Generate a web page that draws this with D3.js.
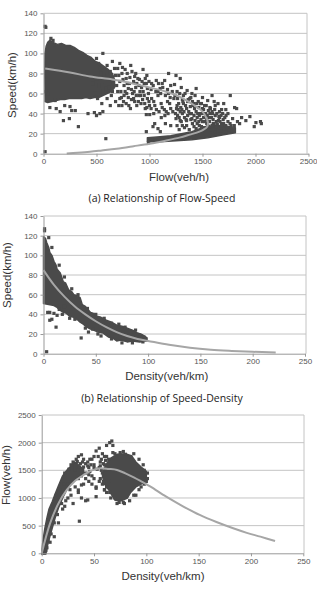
<!DOCTYPE html>
<html>
<head>
<meta charset="utf-8">
<script src="https://cdn.jsdelivr.net/npm/d3@7"></script>
<style>
  body { margin: 0; background: #fff; }
  svg { display: block; }
</style>
</head>
<body>
<svg id="chart" width="317" height="592"></svg>
<script>
// ---- (a) flow-speed ----
const flowTicks = [0, 500, 1000, 1500, 2000, 2500]
const speedTicks = [0, 20, 40, 60, 80, 100, 120, 140]

// dense free-flow cloud outline (flow, speed)
const fsCore = [[15,52],[12,80],[14,100],[25,107],[40,111],[60,113],[90,111],[130,109],[170,110],[210,108],[250,108],
  [290,106],[330,103],[370,101],[410,98],[450,96],[490,92],[530,90],[570,87],[610,84],[650,80],[670,74],
  [670,66],[640,62],[600,60],[560,58],[520,56],[480,56],[440,55],[400,56],[360,55],[320,55],[280,55],[240,55],
  [200,54],[160,54],[120,53],[80,52],[40,51]]
// dense congested band outline
const fsBand = [[980,12],[1100,12],[1250,13],[1400,14],[1550,16],[1700,19],[1810,21],[1810,26],[1700,28],[1600,28],
  [1500,26],[1400,22],[1300,20],[1200,18],[1100,17],[980,16]]
const fsPoints = [[15,127],[22,126],[15,2],[110,53],[157,42],[188,33],[244,35],[266,43],[300,43],[329,27],[420,40],
  [480,41],[500,38],[532,40],[560,42],[588,15],[200,48],[250,47],[120,45],[60,46],[40,60],[20,62],[70,115],[90,113],[100,108],
  [500,95],[520,90],[560,100],[600,88],[630,82],[650,92],[680,78],[700,85],[720,72],[740,80],[760,68],[780,75],[800,65],
  [823,88],[850,72],[870,80],[900,68],[939,84],[960,75],[980,65],
  [500,75],[520,68],[540,80],[560,62],[580,72],[600,55],[620,66],[640,58],[660,70],[680,52],[700,62],[720,55],[740,48],
  [760,58],[780,50],[800,56],[820,45],[840,60],[860,52],[880,48],[900,58],[920,50],[940,62],[960,45],[980,55],[1000,48],
  [470,70],[490,60],[510,55],[530,85],[550,50],[570,78],[590,65],[610,75],[630,48],[650,62],[670,85],[690,68],[710,78],
  [730,62],[750,74],[770,62],[790,80],[810,70],[830,64],[850,55],[870,66],[890,75],[910,62],[930,72],[950,58],[970,70],[990,60],
  [1020,70],[1064,73],[1100,65],[1143,73],[1180,60],[1200,68],[1236,69],[1260,62],[1300,66],[1320,58],[1355,63],[1380,55],
  [1400,60],[1440,65],[1460,52],[1500,56],[1549,53],[1590,58],[1620,48],[1646,50],[1680,44],[1700,50],[1762,58],[1803,46],[1822,45],
  [1020,55],[1050,48],[1080,58],[1110,50],[1140,44],[1170,52],[1200,45],[1230,55],[1260,48],[1290,42],[1320,50],[1350,45],
  [1380,40],[1410,48],[1440,42],[1470,38],[1500,45],[1530,40],[1560,36],[1590,42],[1620,38],[1650,33],[1680,30],[1710,36],
  [1740,32],[1770,28],
  [970,39],[1002,39],[1049,30],[1033,27],[1111,36],[1158,42],[1102,22],[970,22],[1080,25],[1150,30],[1200,28],[1250,35],
  [1300,32],[1350,28],[1400,35],[1450,30],[1500,32],[1550,28],[1600,30],[1650,26],[1700,25],[1750,24],
  [1722,38],[1784,35],[1869,36],[1909,33],[1947,37],[1988,27],[2004,31],[2047,32],[2055,30],
  [1290,75],[1250,78],[1180,80],[1120,70],[1080,62],[1040,52],[1050,14],[1000,13],[990,11],
  [720,90],[745,86],[770,84],[790,70],[815,76],[835,82],[860,77],[880,70],[905,74],[925,66],[950,70],[975,78],[995,72],
  [1015,64],[1035,68],[1060,62],[1085,70],[1105,60],[1125,66],[1150,58],[1170,64],[1195,56],[1215,62],[1240,58],[1265,55],
  [1285,60],[1310,54],[1335,60],[1360,52],[1390,56],[1415,50],[1430,58],[1480,50],[1520,48],[1570,46],[1610,52],[1660,42],
  [1720,44],[1740,40],
  [710,48],[735,56],[755,52],[785,60],[805,48],[830,54],[855,62],[875,58],[895,52],[915,58],[935,54],[955,50],[975,46],
  [995,52],[1015,45],[1040,40],[1065,44],[1090,42],[1120,46],[1145,38],[1175,40],[1190,50],[1220,42],[1245,40],[1270,44],
  [1280,36],[1310,40],[1330,36],[1360,38],[1390,34],[1420,38],[1450,36],[1480,40],[1510,36],[1540,34],[1570,40],[1600,34],
  [1630,32],[1660,36],[1690,40],[1720,28],[1760,30],[1800,28],[1830,32],[1850,30],
  [1260,28],[1330,26],[1420,27],[1470,28],[1540,30],[1580,24],[1620,22],[1670,23],[1720,22],[1780,23],
  [1255,45],[1275,50],[1295,46],[1315,52],[1340,48],[1365,54],[1385,47],[1405,52],[1425,45],[1445,50],[1465,46],[1490,50],
  [1510,44],[1535,48],[1555,43],[1575,45],[1595,40],[1615,44],[1635,40],[1655,37],[1675,38],[1695,34],
  [1265,38],[1290,33],[1305,44],[1325,42],[1345,34],[1370,42],[1395,40],[1405,30],[1430,33],[1455,40],[1465,32],[1485,34],
  [1505,40],[1525,32],[1545,38],[1565,32],[1585,36],[1610,30],[1640,29],[1665,32],[1700,30],
  [1280,24],[1310,28],[1350,33],[1375,24],[1440,25],[1490,27],[1520,26],[1560,27],[1590,28],[1630,27],[1680,28],[1730,26]]
const fsFit = [[16,85],[250,81],[440,77],[650,74],[800,71],[1000,66],[1150,62],[1282,57],[1380,51],[1440,47],[1500,42],
  [1530,37],[1550,32],[1545,27],[1510,24],[1471,22],[1380,19],[1282,16],[1150,13],[1002,10],[850,7.5],[689,5],[550,3.3],
  [438,2],[320,1],[219,0.3]]

// ---- (b) speed-density ----
const densTicks = [0, 50, 100, 150, 200, 250]
const sdCore = [[0,119],[2,117],[3,113],[5,108],[6,103],[8,100],[10,94],[12,90],[13,86],[16,82],[19,73],[21,72],[24,65],
  [27,63],[29,60],[32,59],[35,57],[37,50],[40,48],[45,42],[48,41],[51,38],[55,37],[60,34],[65,32],[70,29],[75,28],[80,26],
  [85,24],[90,21],[95,19],[99,16],[99,13],[92,12],[85,13],[80,12],[74,14],[70,13],[66,16],[62,17],[57,21],[52,22],[48,24],
  [45,25],[41.5,27],[38,30],[35,32],[32,35],[29,37],[25,38],[22,41],[19,42],[16,44],[13,47],[10,49],[5,50],[0,51]]
const sdPoints = [[1,127],[1,125],[3,2],[36,16],[12,27],[6,34],[8,35],[10,41],[13,39],[4,42],[6,42],[43,22],[47,25],
  [30,35],[25,36],[18,40],[40,26],[52,20],[55,18],[65,15],[75,11],[85,11],[95,12],[5,118],[8,108],[15,90],[20,78],
  [27,66],[33,60],[42,46],[50,40],[58,36],[65,31],[72,30],[78,27],[88,24],[20,48],[15,45],[96,17],[92,19]]
const sdFit = [[0,85],[10,70],[20,58],[30,48],[40,40],[50,33],[60,27],[70,22],[80,18],[90,15],[100,13],[120,9],
  [140,6],[160,4],[180,2.8],[200,1.9],[222,1.3]]

// ---- (c) flow-density ----
const dfTicks = [0, 500, 1000, 1500, 2000, 2500]
const dfRise = [[0,0],[1,200],[3,450],[5,640],[7,800],[10,930],[13,1080],[16,1220],[20,1400],[24,1500],[28,1580],
  [31,1650],[34,1620],[37,1560],[40,1540],[40,1440],[36,1380],[32,1320],[28,1250],[24,1150],[20,1000],[16,820],
  [13,650],[10,450],[7,250],[5,100],[4,0]]
const dfBlob = [[66,1720],[72,1790],[80,1800],[86,1760],[90,1650],[95,1560],[100,1480],[100,1300],[96,1260],[90,1200],
  [85,1100],[82,1000],[76,950],[70,960],[67,1050],[64,1150],[60,1250],[58,1400],[60,1550],[63,1650]]
const dfPoints = [[36,580],[12,300],[8,200],[5,100],[3,0],[2,0],[1,0],[4,50],[16,550],[20,800],[22,850],[25,1000],
  [28,1050],[30,900],[35,1100],[38,1000],[42,950],[45,1300],[48,1400],[50,1350],[52,1200],[55,1300],[58,1250],[60,1150],
  [62,1100],[48,1700],[52,1850],[55,1900],[58,1800],[62,1950],[65,2000],[67,2030],[68,1950],[60,1750],[56,1650],[44,1650],
  [40,1700],[38,1780],[35,1750],[33,1700],[30,1650],[28,1600],[45,1550],[50,1600],[55,1550],[58,1450],[62,1500],[40,1250],
  [35,1350],[32,1200],[27,1150],[25,1250],[38,1400],[42,1450],[100,1300],[99,1400],[98,1500],[60,1600],[64,1700],[70,1800],
  [75,1820],[80,1790],[85,1750],[72,900],[78,920],[90,1050],[95,1200],[66,1000],[64,1300],[44,964],[35,1145],[38,1235],
  [52,1175],[60,1145],[52,1024],[32,1500],[36,1560],[40,1560],[46,1480],[14,1050],[17,1150],[21,1250],
  [22,1450],[26,1520],[29,1580],[34,1660],[37,1620],[39,1650],[42,1620],[44,1580],[47,1600],[50,1550],[53,1520],[56,1580],
  [59,1620],[61,1680],[63,1560],[46,1700],[50,1750],[54,1750],[57,1700],[42,1350],[45,1420],[48,1250],[23,950],[19,900],
  [15,700],[12,550],[9,350],[6,250],[4,400],[3,300],[2,150],
  [62,1750],[68,1820],[78,1840],[88,1800],[93,1700],[97,1600],[101,1450],[101,1350],[98,1250],[93,1150],[88,1050],
  [84,950],[79,900],[74,920],[70,1000],[65,1100],[62,1200],[59,1300],[57,1500],[56,1350]]
const dfFit = [[0,0],[8,542],[16,900],[24,1145],[32,1310],[40,1416],[48,1500],[56,1536],[64,1525],[72,1506],[80,1445],
  [88,1373],[96,1290],[104,1205],[119,1024],[135,850],[151,693],[167,565],[183,452],[196,370],[209,301],[223,223]]

const svg = d3.select('#chart')
const dotColor = '#4a4a4a'
const font = 'Liberation Sans, Arial, sans-serif'

function panel(o) {
  const g = svg.append('g')
  const x = d3.scaleLinear(o.xDomain, o.xRange)
  const y = d3.scaleLinear(o.yDomain, o.yRange)

  // grid
  g.selectAll('.grid').data(o.yTicks.slice(1))
    .join('line')
    .attr('x1', o.xRange[0]).attr('x2', o.right)
    .attr('y1', d => y(d)).attr('y2', d => y(d))
    .attr('stroke', '#c4c4c4').attr('stroke-width', 1)
  g.append('line')
    .attr('x1', o.right).attr('x2', o.right)
    .attr('y1', o.yRange[1]).attr('y2', o.yRange[0])
    .attr('stroke', '#c4c4c4')

  // dense clouds
  o.clouds.forEach(c => {
    g.append('path')
      .attr('d', d3.line().x(d => x(d[0])).y(d => y(d[1])).curve(d3.curveLinearClosed)(c))
      .attr('fill', dotColor).attr('stroke', dotColor).attr('stroke-width', 1.5).attr('stroke-linejoin', 'round')
  })
  g.selectAll('.pt').data(o.points)
    .join('rect')
    .attr('x', d => x(d[0]) - 1.6).attr('y', d => y(d[1]) - 1.6)
    .attr('width', 3.2).attr('height', 3.2)
    .attr('fill', dotColor)

  // fitted curve
  g.append('path')
    .attr('d', d3.line().x(d => x(d[0])).y(d => y(d[1])).curve(d3.curveCatmullRom)(o.fit))
    .attr('fill', 'none').attr('stroke', '#a6a6a6').attr('stroke-width', 2)

  // axes
  const xa = g.append('g').attr('transform', `translate(0,${o.yRange[0]})`)
    .call(d3.axisBottom(x).tickValues(o.xTicks).tickFormat(d3.format('d')).tickSize(3).tickSizeOuter(0))
  const ya = g.append('g').attr('transform', `translate(${o.xRange[0]},0)`)
    .call(d3.axisLeft(y).tickValues(o.yTicks).tickFormat(d3.format('d')).tickSize(3).tickSizeOuter(0))
  ;[xa, ya].forEach(a => {
    a.select('.domain').attr('stroke', '#999')
    a.selectAll('line').attr('stroke', '#999')
    a.selectAll('text').attr('fill', '#555').attr('font-size', 8).attr('font-family', font)
  })
  xa.selectAll('text').attr('dy', '0.6em').attr('y', 6)
  // keep the last label inside the window
  xa.selectAll('text').filter((d, i, n) => i === n.length - 1 && x(d) + 9 > 317)
    .attr('text-anchor', 'end').attr('dx', '8.5')
  ya.selectAll('text').attr('x', -6)

  g.append('text').text(o.xTitle)
    .attr('x', o.xTitlePos[0]).attr('y', o.xTitlePos[1])
    .attr('text-anchor', 'middle').attr('dominant-baseline', 'middle')
    .attr('font-size', 11.5).attr('fill', '#333').attr('font-family', font)
  g.append('text').text(o.yTitle)
    .attr('transform', `translate(${o.yTitlePos[0]},${o.yTitlePos[1]}) rotate(-90)`)
    .attr('text-anchor', 'middle').attr('dominant-baseline', 'middle')
    .attr('font-size', 11.5).attr('fill', '#333').attr('font-family', font)
  if (o.caption) {
    g.append('text').text(o.caption)
      .attr('x', 162).attr('y', o.captionY)
      .attr('text-anchor', 'middle').attr('dominant-baseline', 'middle')
      .attr('font-size', 10.5).attr('fill', '#222').attr('font-family', 'Open Sans, sans-serif')
  }
}

panel({
  xDomain: [0, 2500], xRange: [43.5, 308.5], right: 307,
  yDomain: [0, 140], yRange: [153.7, 13.3],
  xTicks: flowTicks, yTicks: speedTicks,
  clouds: [fsCore, fsBand], points: fsPoints, fit: fsFit,
  xTitle: 'Flow(veh/h)', xTitlePos: [179, 178],
  yTitle: 'Speed(km/h)', yTitlePos: [13, 85],
  caption: '(a) Relationship of Flow-Speed', captionY: 199.5
})
panel({
  xDomain: [0, 250], xRange: [43.5, 305], right: 306,
  yDomain: [0, 140], yRange: [353.7, 216],
  xTicks: densTicks, yTicks: speedTicks,
  clouds: [sdCore], points: sdPoints, fit: sdFit,
  xTitle: 'Density(veh/km)', xTitlePos: [166.7, 376.7],
  yTitle: 'Speed(km/h)', yTitlePos: [8, 275],
  caption: '(b) Relationship of Speed-Density', captionY: 399
})
panel({
  xDomain: [0, 250], xRange: [41.7, 303.3], right: 304,
  yDomain: [0, 2500], yRange: [553.3, 415],
  xTicks: densTicks, yTicks: dfTicks,
  clouds: [dfRise, dfBlob], points: dfPoints, fit: dfFit,
  xTitle: 'Density(veh/km)', xTitlePos: [163, 577.3],
  yTitle: 'Flow(veh/h)', yTitlePos: [7, 475]
})
</script>
</body>
</html>
